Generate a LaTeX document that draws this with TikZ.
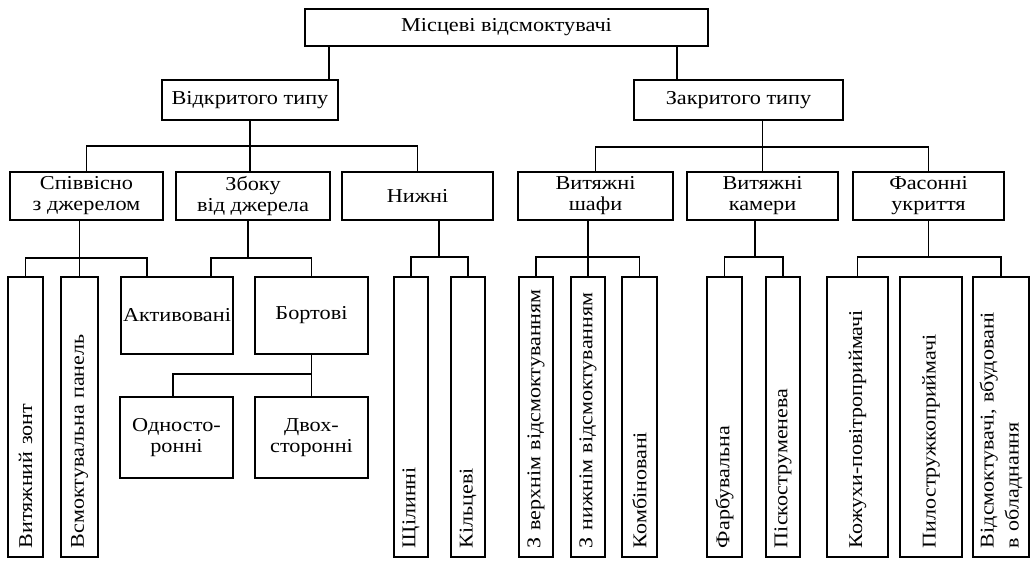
\documentclass[tikz,border=0pt]{standalone}
\usepackage{fontspec}
\setmainfont{Liberation Serif}[FakeStretch=1.13]
\begin{document}
\begin{tikzpicture}[x=1pt,y=-1pt,
  box/.style={draw, line width=1.9pt, rectangle, align=center, inner sep=1pt, font=\fontsize{19.7}{21}\selectfont},
  vbox/.style={draw, line width=1.9pt, rectangle, rotate=90, align=left, inner xsep=9pt, inner ysep=1pt,
    font=\fontsize{19.5}{25}\selectfont\frenchspacing, text width=262pt, minimum width=280pt},
  link/.style={line width=1.9pt}]
\useasboundingbox (0,0) rectangle (1031,562);
% root and level 1
\node[box, minimum width=403pt, minimum height=37pt] (root) at (506.5,27.5) {Місцеві відсмоктувачі};
\node[box, minimum width=176pt, minimum height=40pt] (otk) at (250,100) {Відкритого типу};
\node[box, minimum width=209pt, minimum height=40pt] (zak) at (738.5,100) {Закритого типу};
% level 2
\node[box, minimum width=153pt, minimum height=48pt] (sov) at (86.5,196) {Співвісно\\з джерелом};
\node[box, minimum width=154pt, minimum height=48pt] (zb) at (253,196) {Збоку\\від джерела};
\node[box, minimum width=151pt, minimum height=48pt] (niz) at (417.5,196) {Нижні};
\node[box, minimum width=155pt, minimum height=48pt] (shaf) at (595.5,196) {Витяжні\\шафи};
\node[box, minimum width=151pt, minimum height=48pt] (kam) at (762.5,196) {Витяжні\\камери};
\node[box, minimum width=151pt, minimum height=48pt] (fas) at (928.5,196) {Фасонні\\укриття};
% level 3 horizontal boxes
\node[box, minimum width=112pt, minimum height=77pt] (akt) at (177,315.5) {Активовані};
\node[box, minimum width=113pt, minimum height=77pt] (bort) at (311.5,315.5) {Бортові};
\node[box, minimum width=113pt, minimum height=81pt] (odn) at (176.5,437.5) {Односто-\\ронні};
\node[box, minimum width=113pt, minimum height=81pt] (dvo) at (311.5,437.5) {Двох-\\сторонні};
% level 3 vertical boxes
\node[vbox, minimum height=35pt] (zont) at (25.5,417) {Витяжний зонт};
\node[vbox, minimum height=37pt] (vsm) at (79.5,417) {Всмоктувальна панель};
\node[vbox, minimum height=34pt] (shch) at (411,417) {Щілинні};
\node[vbox, minimum height=34pt] (kil) at (468,417) {Кільцеві};
\node[vbox, minimum height=34pt] (vv) at (536,417) {З верхнім відсмоктуванням};
\node[vbox, minimum height=34pt] (vn) at (588,417) {З нижнім відсмоктуванням};
\node[vbox, minimum height=35pt] (komb) at (639.5,417) {Комбіновані};
\node[vbox, minimum height=35pt] (far) at (724.5,417) {Фарбувальна};
\node[vbox, minimum height=34pt] (pisk) at (783,417) {Піскоструменева};
\node[vbox, minimum height=61pt] (kozh) at (857.5,417) {Кожухи-повітроприймачі};
\node[vbox, minimum height=62pt] (pil) at (931,417) {Пилостружкоприймачі};
\node[vbox, minimum height=56pt] (vbud) at (1001,417) {Відсмоктувачі, вбудовані\\в обладнання};
% connectors root -> level 1
\draw[link] (root.south -| 329,0) -- (otk.north -| 329,0);
\draw[link] (root.south -| 677,0) -- (zak.north -| 677,0);
% open type
\draw[link] (otk.south) -- (otk.south |- zb.north);
\draw[link] (sov.north) -- (sov.north |- 0,146) -- (niz.north |- 0,146) -- (niz.north);
% closed type
\draw[link] (zak.south -| kam.north) -- (kam.north);
\draw[link] (shaf.north) -- (shaf.north |- 0,147) -- (fas.north |- 0,147) -- (fas.north);
% Співвісно
\draw[link] (sov.south -| vsm.east) -- (vsm.east);
\coordinate (sA) at (147,258);
\draw[link] (zont.east) -- (zont.east |- sA) -- (sA) -- (akt.north -| sA);
% Збоку
\coordinate (zA) at (211,258);
\draw[link] (zb.south -| 248,0) -- (248,258);
\draw[link] (akt.north -| zA) -- (zA) -- (bort.north |- zA) -- (bort.north);
\draw[link] (bort.south) -- (dvo.north);
\coordinate (bA) at (173,374);
\draw[link] (bort.south |- bA) -- (bA) -- (odn.north -| bA);
% Нижні
\draw[link] (niz.south -| 439,0) -- (439,257);
\draw[link] (shch.east) -- (shch.east |- 0,257) -- (kil.east |- 0,257) -- (kil.east);
% Шафи
\draw[link] (shaf.south -| vn.east) -- (vn.east);
\draw[link] (vv.east) -- (vv.east |- 0,257) -- (komb.east |- 0,257) -- (komb.east);
% Камери
\draw[link] (kam.south -| 755,0) -- (755,257);
\draw[link] (far.east) -- (far.east |- 0,257) -- (pisk.east |- 0,257) -- (pisk.east);
% Фасонні
\draw[link] (fas.south) -- (fas.south |- 0,257);
\draw[link] (kozh.east) -- (kozh.east |- 0,257) -- (vbud.east |- 0,257) -- (vbud.east);
\end{tikzpicture}
\end{document}
